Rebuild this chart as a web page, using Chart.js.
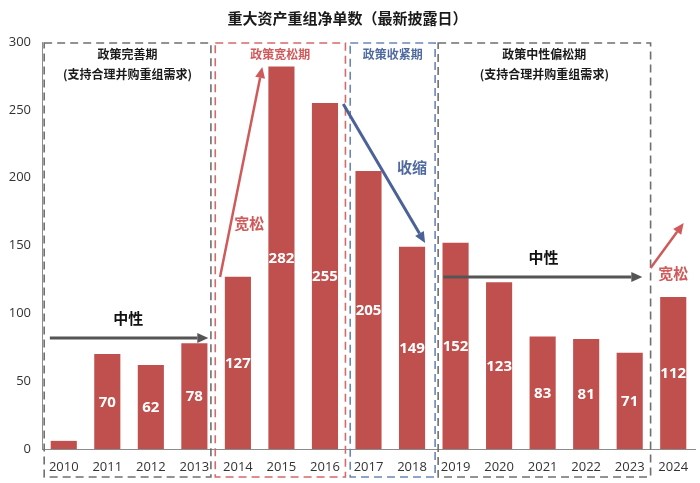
<!DOCTYPE html>
<html><head><meta charset="utf-8">
<script src="https://cdn.jsdelivr.net/npm/chart.js@4.4.1/dist/chart.umd.min.js"></script>
<style>html,body{margin:0;padding:0;background:#fff}#wrap{width:700px;height:483px}</style>
</head><body><div id="wrap"><canvas id="c" width="700" height="483"></canvas></div>
<script>
// ---- data ----
const years = ['2010','2011','2012','2013','2014','2015','2016','2017','2018','2019','2020','2021','2022','2023','2024'];
const netDeals = [6,70,62,78,127,282,255,205,149,152,123,83,81,71,112];
const yTicks = [0,50,100,150,200,250,300];
const chartTitle = '重大资产重组净单数（最新披露日）';
const periodNames = ['政策完善期','政策宽松期','政策收紧期','政策中性偏松期'];
const periodNotes = ['(支持合理并购重组需求)','','','(支持合理并购重组需求)'];
const trendLabels = ['中性','宽松','收缩','中性','宽松'];

const FONT = '"Open Sans","Noto Sans CJK SC",sans-serif';
const CJK = '"Noto Sans CJK SC","Open Sans",sans-serif';

// layout of annotations (category index / value units)
const boxStyle = [
  {from:-0.45, to:3.38, color:'#6f6f6f', text:'#1a1a1a'},
  {from:3.48, to:6.47, color:'#d46a6a', text:'#d05a5a'},
  {from:6.58, to:8.53, color:'#6a86b8', text:'#4f6aa0'},
  {from:8.60, to:13.48, color:'#6f6f6f', text:'#1a1a1a'}
];
const arrowStyle = [
  {x1:-0.32, y1:81.8, x2:3.32, y2:81.8, lx:1.48, ly:96.6, color:'#555555', text:'#111111', w:3},
  {x1:3.59, y1:126.8, x2:4.56, y2:281.6, lx:4.26, ly:166.6, color:'#d05a5a', text:'#d05a5a', w:2.5},
  {x1:6.42, y1:254.3, x2:8.30, y2:151.8, lx:8.0, ly:207.9, color:'#4a6298', text:'#4f6aa0', w:3},
  {x1:8.72, y1:126.8, x2:13.29, y2:126.8, lx:11.02, ly:141.5, color:'#555555', text:'#111111', w:3},
  {x1:13.48, y1:133.4, x2:14.24, y2:166.6, lx:14.0, ly:129.7, color:'#d05a5a', text:'#d05a5a', w:2.5}
];

function drawArrow(ctx, x1, y1, x2, y2, color, w) {
  const ang = Math.atan2(y2 - y1, x2 - x1);
  const hl = 11, hw = 5;
  const bx = x2 - hl * Math.cos(ang), by = y2 - hl * Math.sin(ang);
  ctx.save();
  ctx.strokeStyle = color; ctx.fillStyle = color; ctx.lineWidth = w; ctx.lineCap = 'butt';
  ctx.beginPath(); ctx.moveTo(x1, y1); ctx.lineTo(bx, by); ctx.stroke();
  ctx.beginPath();
  ctx.moveTo(x2, y2);
  ctx.lineTo(bx + hw * Math.sin(ang), by - hw * Math.cos(ang));
  ctx.lineTo(bx - hw * Math.sin(ang), by + hw * Math.cos(ang));
  ctx.closePath(); ctx.fill();
  ctx.restore();
}

const overlay = {
  id: 'overlay',
  afterDatasetsDraw(chart) {
    const {ctx, scales: {x, y}, chartArea} = chart;
    // value labels
    const meta = chart.getDatasetMeta(0);
    ctx.save();
    ctx.font = 'bold 15px ' + FONT;
    ctx.fillStyle = '#ffffff';
    ctx.textAlign = 'center'; ctx.textBaseline = 'middle';
    meta.data.forEach((bar, i) => {
      if (netDeals[i] < 20) return;
      ctx.fillText(String(netDeals[i]), bar.x, (bar.y + bar.base) / 2 + 1);
    });
    ctx.restore();
    // period boxes
    boxStyle.forEach((b, i) => {
      const l = x.getPixelForValue(b.from), r = x.getPixelForValue(b.to);
      const t = y.getPixelForValue(yTicks[yTicks.length - 1]) + 1;
      const btm = chartArea.bottom + 28;
      ctx.save();
      ctx.setLineDash([8, 5]); ctx.lineWidth = 1.6; ctx.strokeStyle = b.color;
      ctx.strokeRect(l, t, r - l, btm - t);
      ctx.setLineDash([]);
      ctx.fillStyle = b.text; ctx.textAlign = 'center'; ctx.textBaseline = 'middle';
      ctx.font = 'bold 12px ' + CJK;
      const cx = (l + r) / 2;
      ctx.fillText(periodNames[i], cx, t + 11);
      if (periodNotes[i]) ctx.fillText(periodNotes[i], cx, t + 31);
      ctx.restore();
    });
    // arrows
    arrowStyle.forEach((a, i) => {
      drawArrow(ctx, x.getPixelForValue(a.x1), y.getPixelForValue(a.y1),
        x.getPixelForValue(a.x2), y.getPixelForValue(a.y2), a.color, a.w);
      ctx.save();
      ctx.font = 'bold 15px ' + CJK; ctx.fillStyle = a.text;
      ctx.textAlign = 'center'; ctx.textBaseline = 'middle';
      ctx.fillText(trendLabels[i], x.getPixelForValue(a.lx), y.getPixelForValue(a.ly));
      ctx.restore();
    });
  }
};

new Chart(document.getElementById('c'), {
  type: 'bar',
  data: {
    labels: years,
    datasets: [{ data: netDeals, backgroundColor: '#c0504d', barPercentage: 0.6, categoryPercentage: 1.0 }]
  },
  options: {
    responsive: false,
    animation: false,
    layout: { padding: { left: 0, right: 5, top: 0, bottom: 0 } },
    plugins: {
      legend: { display: false },
      tooltip: { enabled: false },
      title: {
        display: true, text: chartTitle, color: '#1a1a1a',
        font: { family: CJK, size: 15, weight: 'bold' },
        padding: { top: 9, bottom: 15 }
      }
    },
    scales: {
      x: {
        grid: { display: false, drawTicks: false },
        border: { display: true, color: '#8c8c8c', width: 1 },
        ticks: { color: '#333333', font: { family: FONT, size: 13 }, padding: 10, maxRotation: 0, autoSkip: false },
        afterFit(s) { s.height = 34; }
      },
      y: {
        min: 0, max: 300,
        afterBuildTicks(s) { s.ticks = yTicks.map(v => ({ value: v })); },
        grid: { display: false, drawTicks: false },
        border: { display: true, color: '#8c8c8c', width: 1 },
        ticks: { color: '#333333', font: { family: FONT, size: 13 }, padding: 11 },
        afterFit(s) { s.width = 42; }
      }
    }
  },
  plugins: [overlay]
});
</script></body></html>
